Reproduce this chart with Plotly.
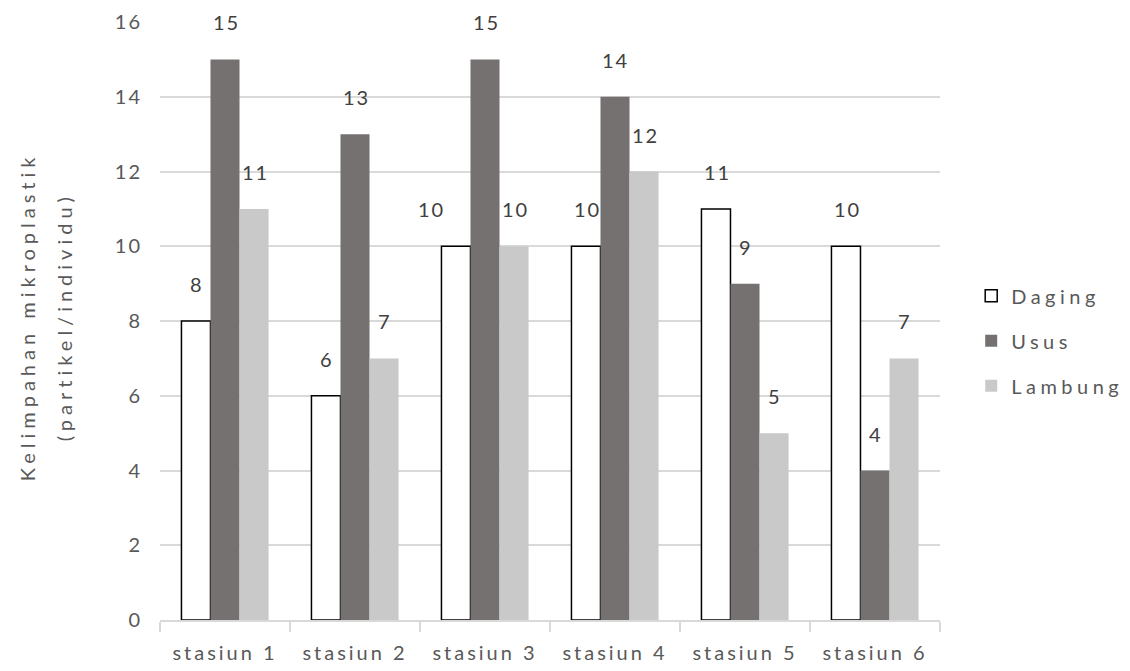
import plotly.graph_objects as go

categories = ["stasiun 1", "stasiun 2", "stasiun 3", "stasiun 4", "stasiun 5", "stasiun 6"]
daging = [8, 6, 10, 10, 11, 10]
usus = [15, 13, 15, 14, 9, 4]
lambung = [11, 7, 10, 12, 5, 7]
y_ticks = [0, 2, 4, 6, 8, 10, 12, 14, 16]
title_lines = ["Kelimpahan mikroplastik", "(partikel/individu)"]

FONT = "Lato"
TEXT = "#595959"

series = [
    ("Daging", daging, "#ffffff", "#000000", 1.5),
    ("Usus", usus, "#767171", "#767171", 0),
    ("Lambung", lambung, "#c9c9c9", "#c9c9c9", 0),
]

fig = go.Figure()
for name, vals, fill, line, lw in series:
    fig.add_trace(go.Bar(
        name=name, x=categories, y=vals,
        marker=dict(color=fill, line=dict(color=line, width=lw)),
        legendgroup=name,
    ))

# value labels above each bar, offset horizontally to each bar of the group
bar_step = 29
label_dx = {("stasiun 3", 0): -26}
for i, (name, vals, *_rest) in enumerate(series):
    for cat, v in zip(categories, vals):
        fig.add_annotation(
            x=cat, y=v, text=str(v), showarrow=False,
            xshift=(i - 1) * bar_step + label_dx.get((cat, i), 0) + 1,
            yshift=37, yanchor="middle",
            font=dict(family=FONT, size=20, color="#404040"),
        )

# two-line rotated y-axis title
for text, dx in zip(title_lines, [-133, -96]):
    fig.add_annotation(
        xref="paper", yref="paper", x=0, y=0.5, xshift=dx, yshift=4,
        text=text, textangle=-90, showarrow=False,
        xanchor="center", yanchor="middle",
        font=dict(family=FONT, size=20, color=TEXT),
    )

fig.update_layout(
    width=1130, height=671,
    margin=dict(l=160, r=190, t=22, b=51),
    paper_bgcolor="white", plot_bgcolor="white",
    barmode="group", bargap=0.33, bargroupgap=0,
    font=dict(family=FONT, size=20, color=TEXT),
    legend=dict(
        x=1.040, y=0.467, xanchor="left", yanchor="middle",
        font=dict(family=FONT, size=20, color=TEXT),
        tracegroupgap=16, itemwidth=30,
    ),
    xaxis=dict(
        showline=True, linecolor="#d9d9d9", linewidth=1.5,
        ticks="outside", tickson="boundaries", ticklen=10,
        tickcolor="#d9d9d9", tickwidth=1.5,
        tickfont=dict(family=FONT, size=20, color=TEXT),
        ticklabelstandoff=14, automargin=False,
    ),
    yaxis=dict(
        range=[0, 16], tickvals=y_ticks,
        showgrid=True, gridcolor="#d9d9d9", gridwidth=1.5,
        zeroline=False, showline=False,
        tickfont=dict(family=FONT, size=20, color=TEXT),
        ticklabelstandoff=17, automargin=False,
    ),
)

# widen the tracking of the chart's lettering
spacing_js = """
(function(){
  var gd = document.getElementById('{plot_id}');
  function track(){
    var rules = [
      ['.xtick text', '3px'], ['.ytick text', '2px'],
      ['.legendtext', '4.5px'], ['.annotation-text', '2px']
    ];
    rules.forEach(function(r){
      gd.querySelectorAll(r[0]).forEach(function(t){ t.style.letterSpacing = r[1]; });
    });
    gd.querySelectorAll('.annotation-text').forEach(function(t){
      if (t.textContent.length > 5) { t.style.letterSpacing = '5px'; }
    });
    gd.querySelectorAll('.legend .scrollbox').forEach(function(s){
      s.removeAttribute('clip-path');
    });
  }
  track();
  if (gd.on) { gd.on('plotly_afterplot', track); }
  setTimeout(track, 0);
})();
"""

fig.write_html("out.html", post_script=spacing_js)
